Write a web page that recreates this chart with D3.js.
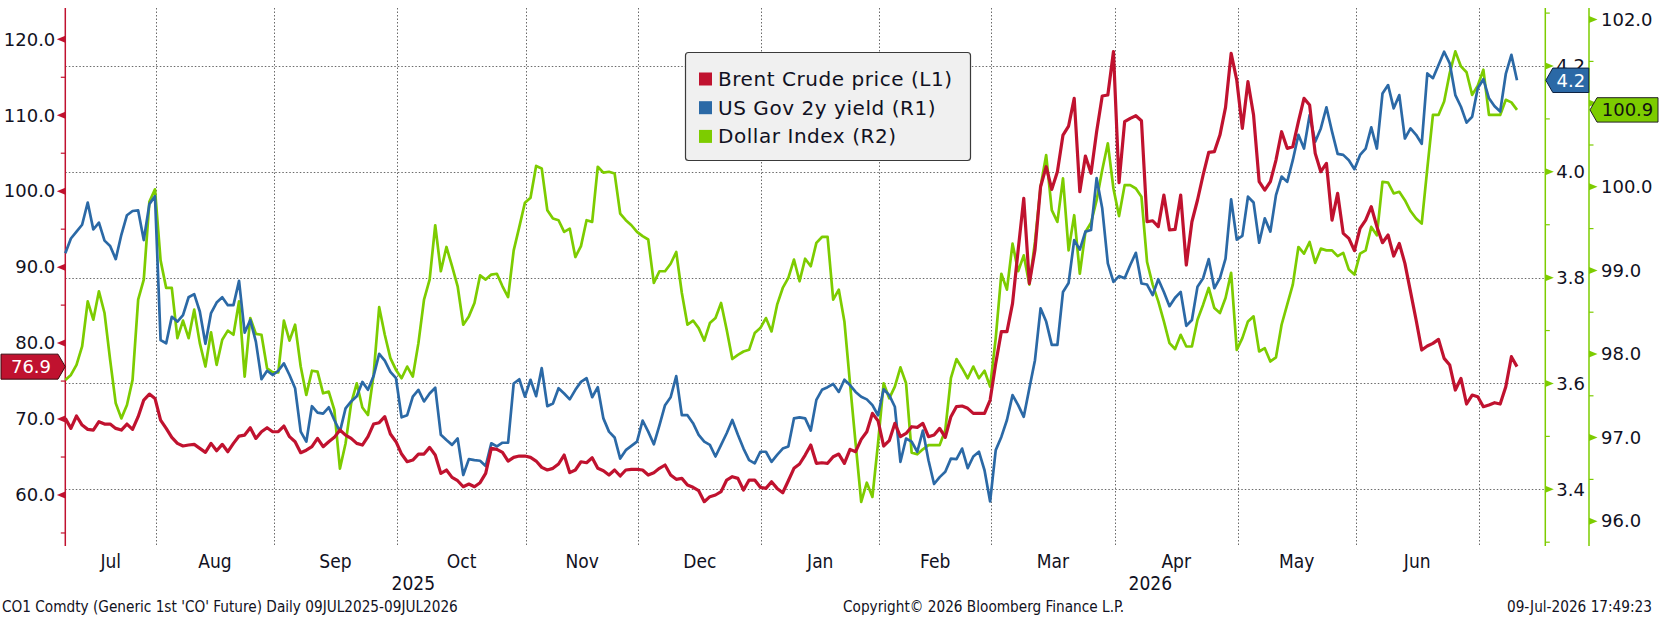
<!DOCTYPE html>
<html><head><meta charset="utf-8">
<script src="https://cdn.jsdelivr.net/npm/d3@7"></script>
<style>body{margin:0;background:#fff}svg{display:block}</style>
</head><body><svg id="c" width="1662" height="627"></svg>
<script>
// ---------- data ----------
const startDate = "2025-07-09", endDate = "2026-07-09";
const holidays = ["2025-12-25", "2026-01-01"];
const seriesNames = ["Brent Crude price (L1)", "US Gov 2y yield (R1)", "Dollar Index (R2)"];
const brent = [70.09,68.77,70.40,69.21,68.64,68.55,69.65,69.34,69.34,68.77,
68.55,69.34,68.64,70.31,72.50,73.29,72.72,69.87,68.77,67.59,
66.80,66.45,66.58,66.67,66.14,65.61,66.80,65.83,66.67,65.70,
66.80,67.76,67.89,68.86,67.45,68.33,68.86,68.33,68.33,69.08,
67.68,67.02,65.57,65.90,66.36,67.46,66.36,67.02,67.59,68.55,
67.89,67.46,66.80,66.58,67.68,69.34,69.52,70.31,68.03,67.02,
65.39,64.38,64.60,65.39,65.39,66.27,65.26,62.85,63.29,62.32,
61.88,61.09,61.44,61.09,61.62,62.85,66.14,66.01,65.61,64.47,
64.96,65.13,65.13,64.96,64.47,63.64,63.29,63.51,64.08,65.26,
62.94,63.29,64.38,64.25,64.91,63.51,63.20,62.63,63.29,62.50,
63.29,63.38,63.38,63.29,62.63,62.94,63.51,63.95,62.63,62.06,
62.19,61.31,61.01,60.57,59.12,59.78,60.00,60.44,61.97,62.41,
62.19,60.65,61.97,61.97,61.01,60.87,61.75,60.87,60.30,61.88,
63.51,64.08,65.26,66.58,64.17,64.25,64.17,65.04,65.39,64.17,
66.01,65.70,67.32,68.33,70.75,69.78,66.45,67.15,69.43,67.68,
68.11,68.99,68.91,69.43,67.68,67.89,68.77,67.59,70.31,71.64,
71.72,71.41,70.75,70.75,70.75,72.50,77.33,81.50,81.50,85.23,
92.25,99.06,87.87,92.25,100.59,103.23,100.24,102.57,107.39,108.58,
112.22,99.93,104.63,102.35,107.83,112.53,112.66,118.37,101.12,109.15,
109.59,109.94,109.28,95.98,96.11,95.33,99.49,94.89,94.97,99.49,
90.28,95.98,98.84,102.13,105.11,105.20,107.39,111.04,118.15,114.64,
108.27,114.42,110.03,101.25,100.15,101.25,104.10,107.83,105.64,105.86,
109.15,112.22,111.35,104.98,102.57,103.66,96.20,99.71,94.45,93.79,
92.17,95.11,96.20,97.96,95.33,93.22,94.23,91.46,93.13,90.50,
86.77,83.04,79.09,79.61,79.96,80.49,77.99,77.11,73.82,75.36,
71.98,73.16,72.94,71.63,71.85,72.15,71.98,74.26,78.21,76.90];
const yield2y = [3.846,3.874,3.887,3.900,3.942,3.891,3.904,3.870,3.860,3.835,
3.881,3.918,3.926,3.927,3.871,3.939,3.954,3.682,3.676,3.726,
3.717,3.729,3.763,3.769,3.736,3.675,3.733,3.753,3.763,3.748,
3.748,3.794,3.696,3.720,3.679,3.608,3.624,3.616,3.624,3.638,
3.616,3.591,3.509,3.490,3.557,3.545,3.543,3.555,3.531,3.509,
3.553,3.566,3.576,3.603,3.588,3.614,3.656,3.643,3.622,3.610,
3.536,3.540,3.575,3.588,3.566,3.581,3.592,3.503,3.493,3.484,
3.496,3.427,3.457,3.455,3.454,3.444,3.487,3.481,3.488,3.488,
3.600,3.608,3.575,3.607,3.576,3.629,3.557,3.562,3.591,3.581,
3.570,3.588,3.603,3.610,3.574,3.593,3.534,3.509,3.498,3.458,
3.474,3.482,3.490,3.530,3.509,3.485,3.521,3.559,3.574,3.614,
3.540,3.540,3.525,3.503,3.490,3.484,3.462,3.484,3.506,3.531,
3.503,3.477,3.455,3.449,3.471,3.471,3.452,3.465,3.477,3.481,
3.534,3.536,3.534,3.511,3.569,3.588,3.593,3.599,3.584,3.607,
3.597,3.584,3.575,3.570,3.559,3.540,3.589,3.578,3.556,3.452,
3.496,3.490,3.471,3.511,3.455,3.410,3.423,3.433,3.458,3.457,
3.477,3.440,3.462,3.471,3.436,3.377,3.474,3.499,3.531,3.578,
3.559,3.537,3.591,3.644,3.742,3.717,3.673,3.673,3.773,3.790,
3.871,3.853,3.887,3.890,3.988,3.931,3.827,3.792,3.803,3.799,
3.824,3.847,3.789,3.787,3.767,3.797,3.773,3.746,3.762,3.773,
3.709,3.720,3.783,3.799,3.835,3.780,3.799,3.836,3.948,3.872,
3.879,3.953,3.942,3.866,3.912,3.887,3.956,3.991,3.981,4.022,
4.070,4.044,4.107,4.057,4.082,4.122,4.076,4.034,4.032,4.022,
4.005,4.032,4.044,4.084,4.044,4.148,4.164,4.120,4.145,4.063,
4.082,4.070,4.053,4.186,4.177,4.202,4.227,4.205,4.145,4.123,
4.093,4.104,4.158,4.175,4.139,4.124,4.114,4.185,4.221,4.173];
const dxy = [97.69,97.75,97.87,98.09,98.63,98.41,98.75,98.49,97.93,97.41,
97.23,97.39,97.69,98.65,98.89,99.82,99.97,99.12,98.79,98.79,
98.19,98.40,98.19,98.53,98.13,97.85,98.26,97.87,98.17,98.28,
98.23,98.63,97.73,98.43,98.24,98.23,97.83,97.78,97.78,98.40,
98.16,98.35,97.85,97.51,97.80,97.79,97.53,97.55,97.33,96.63,
96.93,97.41,97.65,97.36,97.27,97.75,98.56,98.23,97.95,97.81,
97.71,97.85,97.73,98.13,98.65,98.89,99.54,98.99,99.28,99.05,
98.81,98.35,98.45,98.61,98.94,98.89,98.95,98.96,98.81,98.68,
99.24,99.52,99.81,99.87,100.25,100.22,99.72,99.62,99.60,99.46,
99.50,99.16,99.29,99.60,99.58,100.24,100.17,100.18,100.16,99.68,
99.60,99.54,99.46,99.41,99.37,98.85,98.99,98.99,99.08,99.22,
98.73,98.35,98.40,98.31,98.16,98.37,98.43,98.61,98.29,97.94,
97.99,98.03,98.05,98.25,98.31,98.43,98.27,98.59,98.79,98.91,
99.13,98.87,99.14,99.05,99.33,99.40,99.40,98.65,98.77,98.39,
97.65,96.93,96.23,96.46,96.29,96.93,97.65,97.47,97.61,97.84,
97.65,96.82,96.80,96.86,96.91,96.91,96.91,97.09,97.71,97.94,
97.83,97.71,97.85,97.71,97.80,97.61,98.19,98.96,98.77,99.32,
98.99,99.18,98.83,99.34,100.00,100.38,99.72,99.58,100.10,99.24,
99.66,98.96,99.46,99.57,99.84,100.20,100.52,99.98,99.65,100.02,
100.02,99.98,99.88,99.10,98.83,98.63,98.39,98.13,98.06,98.23,
98.09,98.09,98.41,98.59,98.79,98.55,98.49,98.67,98.97,98.05,
98.19,98.39,98.45,98.03,98.07,97.91,97.96,98.35,98.59,98.83,
99.28,99.20,99.34,99.09,99.26,99.24,99.24,99.17,99.21,99.01,
98.95,99.20,99.24,99.52,99.42,100.06,100.05,99.92,99.94,99.84,
99.71,99.62,99.56,100.22,100.86,100.86,101.02,101.36,101.62,101.44,
101.37,101.10,101.21,101.40,100.86,100.86,100.86,101.04,101.01,100.92];
const leftTicks = [60, 70, 80, 90, 100, 110, 120];
const leftMinor = [55, 65, 75, 85, 95, 105, 115];
const r1Ticks = [3.4, 3.6, 3.8, 4.0, 4.2];
const r1Minor = [3.3, 3.5, 3.7, 3.9, 4.1, 4.3];
const r2Ticks = [96, 97, 98, 99, 100, 101, 102];
const r2Labels = [96, 97, 98, 99, 100, 102];   // 101.0 is hidden behind the last-value tag
const r2Minor = [96.5, 97.5, 98.5, 99.5, 100.5, 101.5];
const footerLeft = "CO1 Comdty (Generic 1st 'CO' Future) Daily 09JUL2025-09JUL2026";
const footerMid = "Copyright\u00a9 2026 Bloomberg Finance L.P.";
const footerRight = "09-Jul-2026 17:49:23";

// ---------- colours & layout ----------
const RED = "#c0122f", BLUE = "#2b69a6", GREEN = "#7dcc00";
const plotL = 65.3, plotR = 1545.3, r2X = 1589, plotT = 8, plotB = 546;
const svg = d3.select("#c");
const NUMFONT = "'DejaVu Sans', Verdana, sans-serif";
const NARROW = "'Liberation Sans Narrow', 'DejaVu Sans Condensed', 'Arial Narrow', sans-serif";

// trading calendar
const fmt = d3.utcFormat("%Y-%m-%d");
const days = d3.utcDay.range(new Date(startDate + "T00:00Z"), d3.utcDay.offset(new Date(endDate + "T00:00Z"), 1))
  .filter(d => d.getUTCDay() % 6 !== 0 && !holidays.includes(fmt(d)));

const x = d3.scaleLinear().domain([0, days.length - 1]).range([plotL, 1517]);
const yL = d3.scaleLinear().domain([60, 120]).range([495, 39.3]);
const yR1 = d3.scaleLinear().domain([3.4, 4.2]).range([489.3, 66]);
const yR2 = d3.scaleLinear().domain([96, 102]).range([521.2, 19.6]);

// month boundaries
const bounds = [];
for (let i = 1; i < days.length; i++) if (days[i].getUTCMonth() !== days[i - 1].getUTCMonth()) bounds.push(i);
const bx = i => x(i - 0.8);

// ---------- grid ----------
const grid = svg.append("g").attr("stroke", "#6a6a6a").attr("stroke-width", 1).attr("stroke-dasharray", "1.5,2");
grid.selectAll("line.v").data(bounds).join("line").attr("class", "v")
  .attr("x1", d => Math.round(bx(d)) + 0.5).attr("x2", d => Math.round(bx(d)) + 0.5)
  .attr("y1", plotT).attr("y2", plotB);
grid.selectAll("line.h").data(r1Ticks).join("line").attr("class", "h")
  .attr("x1", plotL).attr("x2", plotR)
  .attr("y1", d => Math.round(yR1(d)) + 0.5).attr("y2", d => Math.round(yR1(d)) + 0.5);

// ---------- axes ----------
function axisLine(xp, color) {
  svg.append("line").attr("x1", xp).attr("x2", xp).attr("y1", plotT).attr("y2", plotB)
    .attr("stroke", color).attr("stroke-width", 1.5);
}
axisLine(plotL, RED); axisLine(plotR, GREEN); axisLine(r2X, GREEN);

function styleAxis(g) {
  g.select(".domain").remove();
  g.selectAll(".tick line").remove();
  g.selectAll("text").attr("font-family", NUMFONT).attr("font-size", 18).attr("fill", "#111122");
}
const gL = svg.append("g").attr("transform", `translate(${plotL},0)`)
  .call(d3.axisLeft(yL).tickValues(leftTicks).tickFormat(d3.format(".1f")).tickSize(0).tickPadding(10));
styleAxis(gL);
const gR1 = svg.append("g").attr("transform", `translate(${plotR},0)`)
  .call(d3.axisRight(yR1).tickValues(r1Ticks).tickFormat(d3.format(".1f")).tickSize(0).tickPadding(11));
styleAxis(gR1);
const gR2 = svg.append("g").attr("transform", `translate(${r2X},0)`)
  .call(d3.axisRight(yR2).tickValues(r2Labels).tickFormat(d3.format(".1f")).tickSize(0).tickPadding(12));
styleAxis(gR2);

function tri(ax, ys, dir, color) {
  svg.append("g").selectAll("path").data(ys).join("path")
    .attr("d", y => `M${ax},${y - 3.5}L${ax + dir * 8.5},${y}L${ax},${y + 3.5}Z`).attr("fill", color);
}
function minor(ax, ys, dir, color) {
  svg.append("g").selectAll("line").data(ys).join("line")
    .attr("x1", ax).attr("x2", ax + dir * 4.5).attr("y1", y => y).attr("y2", y => y)
    .attr("stroke", color).attr("stroke-width", 1.2);
}
tri(plotL, leftTicks.map(yL), -1, RED);
minor(plotL, leftMinor.map(yL).filter(v => v > plotT && v < plotB), -1, RED);
tri(plotR, r1Ticks.map(yR1), 1, GREEN);
minor(plotR, r1Minor.map(yR1).filter(v => v > plotT && v < plotB), 1, GREEN);
tri(r2X, r2Ticks.map(yR2), 1, GREEN);
minor(r2X, r2Minor.map(yR2).filter(v => v > plotT && v < plotB), 1, GREEN);

// ---------- month / year labels ----------
const segs = [0, ...bounds];
const edges = [plotL, ...bounds.map(bx), 1517];
const monthFmt = d3.utcFormat("%b");
segs.forEach((s, k) => {
  const a = edges[k], b = edges[k + 1];
  if (b - a < 60) return;
  svg.append("text").attr("x", (a + b) / 2).attr("y", 568).attr("text-anchor", "middle")
    .attr("font-family", NARROW).attr("font-size", 19).attr("fill", "#111122").text(monthFmt(days[s]));
});
const janIdx = bounds.find(i => days[i].getUTCMonth() === 0);
[[plotL, bx(janIdx), days[0]], [bx(janIdx), plotR - 6, days[janIdx]]].forEach(([a, b, d]) => {
  svg.append("text").attr("x", (a + b) / 2).attr("y", 590).attr("text-anchor", "middle")
    .attr("font-family", NARROW).attr("font-size", 19).attr("fill", "#111122").text(d.getUTCFullYear());
});

// ---------- lines ----------
const line = (ys, arr) => d3.line().x((d, i) => x(i)).y(d => ys(d))(arr);
svg.append("path").attr("d", line(yR2, dxy)).attr("fill", "none").attr("stroke", GREEN).attr("stroke-width", 2.7).attr("stroke-linejoin", "round");
svg.append("path").attr("d", line(yR1, yield2y)).attr("fill", "none").attr("stroke", BLUE).attr("stroke-width", 2.7).attr("stroke-linejoin", "round");
svg.append("path").attr("d", line(yL, brent)).attr("fill", "none").attr("stroke", RED).attr("stroke-width", 3.2).attr("stroke-linejoin", "round");

// ---------- legend ----------
const lg = svg.append("g");
lg.append("rect").attr("x", 685.5).attr("y", 52.5).attr("width", 285).attr("height", 108).attr("rx", 3)
  .attr("fill", "#f0f0f0").attr("stroke", "#3a3a3a").attr("stroke-width", 1.2);
[RED, BLUE, GREEN].forEach((c, k) => {
  const cy = 79 + k * 28.7;
  lg.append("rect").attr("x", 699).attr("y", cy - 6.5).attr("width", 13).attr("height", 13).attr("fill", c);
  lg.append("text").attr("x", 718).attr("y", cy + 7).attr("font-family", NUMFONT).attr("font-size", 20)
    .attr("letter-spacing", 0.55).attr("fill", "#111122").text(seriesNames[k]);
});

// ---------- last value tags ----------
function tagLeft(v, ys, label, fill, txt) {
  const y = ys(v);
  svg.append("path").attr("d", `M1,${y - 12.5}H58L${plotL},${y}L58,${y + 12.5}H1Z`)
    .attr("fill", fill).attr("stroke", "#3a0a10").attr("stroke-width", 1);
  svg.append("text").attr("x", 31).attr("y", y + 6.5).attr("text-anchor", "middle")
    .attr("font-family", NUMFONT).attr("font-size", 18).attr("fill", txt).text(label);
}
function tagRight(v, ys, ax, w, label, fill, txt, stroke) {
  const y = ys(v);
  svg.append("path").attr("d", `M${ax},${y}L${ax + 7},${y - 12.2}H${ax + w}V${y + 12.2}H${ax + 7}Z`)
    .attr("fill", fill).attr("stroke", stroke).attr("stroke-width", 1);
  svg.append("text").attr("x", ax + 7 + (w - 7) / 2).attr("y", y + 6.5).attr("text-anchor", "middle")
    .attr("font-family", NUMFONT).attr("font-size", 18).attr("fill", txt).text(label);
}
const lastB = brent[brent.length - 1], lastY = yield2y[yield2y.length - 1], lastD = dxy[dxy.length - 1];
tagLeft(lastB, yL, lastB.toFixed(1), RED, "#ffffff");
tagRight(lastY, yR1, plotR + 0.5, 43, lastY.toFixed(1), BLUE, "#ffffff", "#0d2240");
tagRight(lastD, yR2, r2X + 1, 68, lastD.toFixed(1), GREEN, "#111111", "#222222");

// ---------- footer ----------
const ft = (t, xp, anchor) => svg.append("text").attr("x", xp).attr("y", 612).attr("text-anchor", anchor)
  .attr("font-family", NARROW).attr("font-size", 15.2).attr("fill", "#111122").text(t);
ft(footerLeft, 2, "start");
ft(footerMid, 843, "start");
ft(footerRight, 1652, "end");
</script></body></html>
